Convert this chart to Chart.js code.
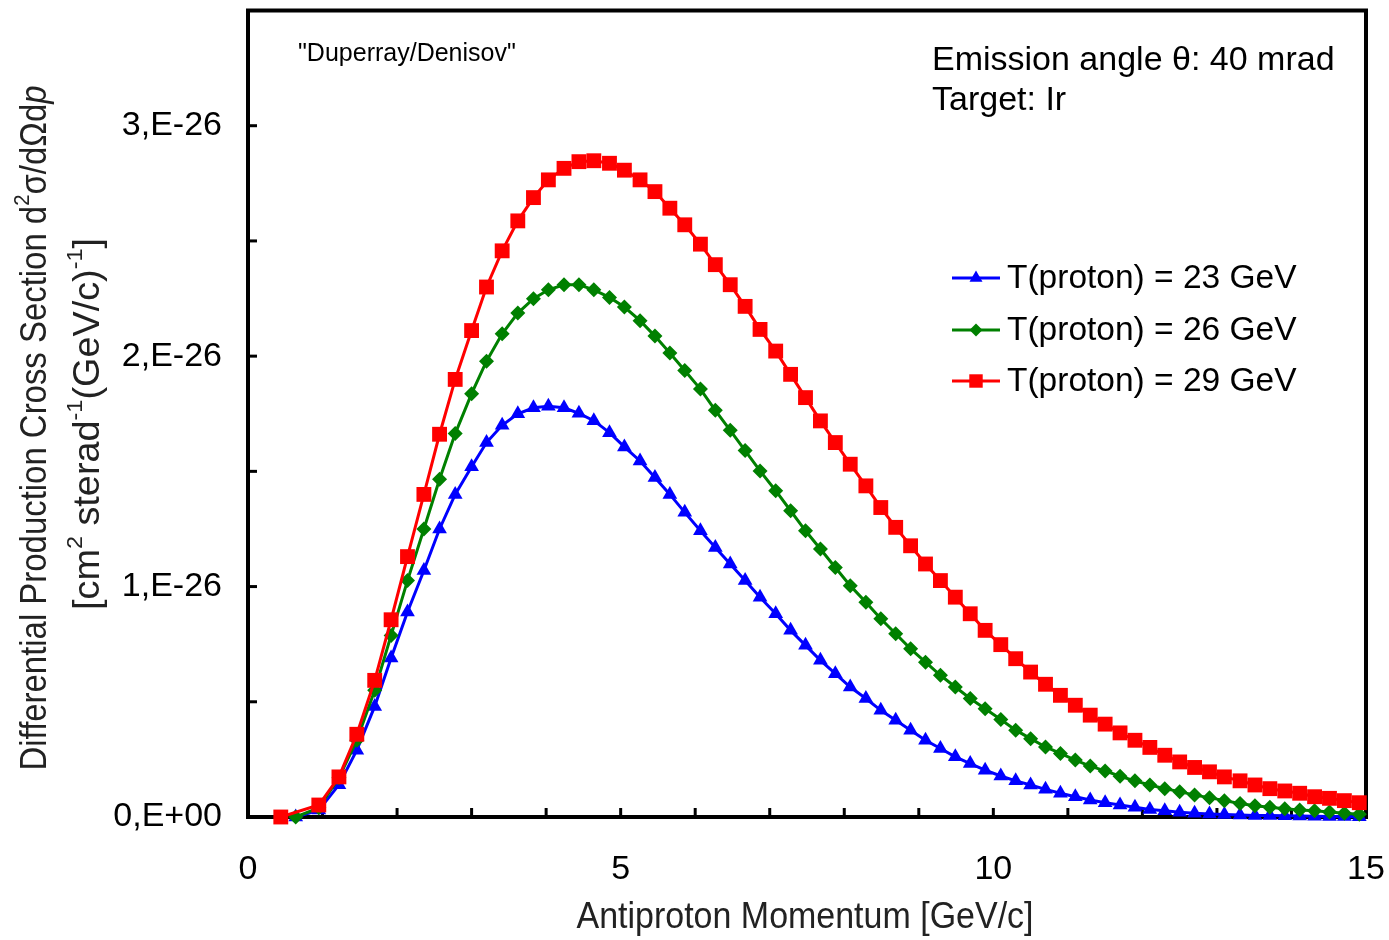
<!DOCTYPE html>
<html>
<head>
<meta charset="utf-8">
<script src="https://cdn.jsdelivr.net/npm/chart.js@4.4.1/dist/chart.umd.min.js"></script>
<style>
    html, body { margin: 0; padding: 0; background: #fff; }
    #wrap { width: 1389px; height: 940px; }
</style>
</head>
<body>
<div id="wrap"><canvas id="xsChart" width="1389" height="940"></canvas></div>
<script>
// antiproton momentum [GeV/c] of the computed points
var momentum = [0.44, 0.64, 0.95, 1.22, 1.46, 1.70, 1.92, 2.14, 2.36, 2.57, 2.78, 3.00, 3.20, 3.41, 3.62, 3.83, 4.03, 4.24, 4.44, 4.64,
    4.85, 5.05, 5.26, 5.46, 5.66, 5.86, 6.07, 6.27, 6.47, 6.67, 6.87, 7.08, 7.28, 7.48, 7.68, 7.88, 8.08, 8.29, 8.49, 8.69,
    8.89, 9.09, 9.29, 9.49, 9.69, 9.89, 10.10, 10.30, 10.50, 10.70, 10.90, 11.10, 11.30, 11.50, 11.70, 11.90, 12.10, 12.30, 12.50, 12.70,
    12.90, 13.10, 13.31, 13.51, 13.71, 13.91, 14.11, 14.31, 14.51, 14.71, 14.91];

// cross sections in units of 1E-26 cm2 sterad-1 (GeV/c)-1
var xs23 = [null, 0.00, 0.03, 0.14, 0.29, 0.48, 0.69, 0.89, 1.07, 1.25, 1.40, 1.52, 1.625, 1.70, 1.75, 1.776, 1.783, 1.776, 1.752, 1.72,
    1.668, 1.606, 1.545, 1.473, 1.40, 1.322, 1.242, 1.17, 1.098, 1.026, 0.954, 0.882, 0.81, 0.745, 0.68, 0.622, 0.564, 0.514, 0.463, 0.42,
    0.377, 0.333, 0.297, 0.261, 0.232, 0.203, 0.178, 0.157, 0.139, 0.12, 0.103, 0.088, 0.074, 0.062, 0.052, 0.042, 0.033, 0.027, 0.021, 0.016,
    0.013, 0.011, 0.009, 0.007, 0.006, 0.005, 0.004, 0.003, 0.002, 0.002, 0.001];
var xs26 = [null, 0.00, 0.04, 0.17, 0.333, 0.55, 0.788, 1.026, 1.25, 1.466, 1.664, 1.837, 1.978, 2.097, 2.187, 2.249, 2.288, 2.31, 2.31, 2.288,
    2.255, 2.213, 2.154, 2.087, 2.014, 1.938, 1.857, 1.765, 1.678, 1.59, 1.502, 1.416, 1.329, 1.242, 1.163, 1.083, 1.004, 0.932, 0.86, 0.795,
    0.73, 0.672, 0.615, 0.564, 0.514, 0.47, 0.423, 0.377, 0.34, 0.304, 0.276, 0.247, 0.221, 0.20, 0.177, 0.157, 0.139, 0.123, 0.11, 0.095,
    0.084, 0.071, 0.059, 0.049, 0.042, 0.036, 0.03, 0.027, 0.022, 0.016, 0.012];
var xs29 = [0.00, null, 0.052, 0.174, 0.359, 0.593, 0.856, 1.13, 1.40, 1.661, 1.899, 2.111, 2.30, 2.457, 2.587, 2.688, 2.765, 2.815, 2.844, 2.848,
    2.837, 2.807, 2.765, 2.714, 2.642, 2.57, 2.486, 2.397, 2.31, 2.216, 2.116, 2.022, 1.921, 1.82, 1.719, 1.625, 1.531, 1.437, 1.343, 1.257,
    1.177, 1.098, 1.026, 0.954, 0.882, 0.81, 0.748, 0.687, 0.629, 0.576, 0.528, 0.485, 0.442, 0.403, 0.365, 0.333, 0.302, 0.268, 0.239, 0.215,
    0.196, 0.174, 0.157, 0.139, 0.123, 0.113, 0.103, 0.088, 0.081, 0.071, 0.062];

var seriesLabels = ['T(proton) = 23 GeV', 'T(proton) = 26 GeV', 'T(proton) = 29 GeV'];
var xTickLabels = {0: '0', 5: '5', 10: '10', 15: '15'};
var yTickLabels = {0: '0,E+00', 1: '1,E-26', 2: '2,E-26', 3: '3,E-26'};

var SANS = '"Liberation Sans", Arial, sans-serif';

function toPoints(values) {
    var pts = [];
    for (var i = 0; i < momentum.length; i++) {
        if (values[i] !== null) pts.push({x: momentum[i], y: values[i]});
    }
    return pts;
}

function drawMarker(ctx, style, x, y, r, color) {
    ctx.save();
    ctx.fillStyle = color;
    ctx.beginPath();
    if (style === 'triangle') {
        ctx.moveTo(x, y - r);
        ctx.lineTo(x + r * 0.866, y + r * 0.5);
        ctx.lineTo(x - r * 0.866, y + r * 0.5);
    } else if (style === 'rectRot') {
        ctx.moveTo(x, y - r);
        ctx.lineTo(x + r, y);
        ctx.lineTo(x, y + r);
        ctx.lineTo(x - r, y);
    } else {
        var s = r * Math.SQRT1_2;
        ctx.rect(x - s, y - s, 2 * s, 2 * s);
    }
    ctx.closePath();
    ctx.fill();
    ctx.restore();
}

// text made of pieces: [text, kind] kind 0 normal, 1 superscript, 2 italic
// squeezed horizontally to a given length (the original uses a narrow face)
function drawRich(ctx, parts, size, length) {
    var total = 0, widths = [];
    parts.forEach(function(p) {
        var fs = p[1] === 1 ? size * 0.62 : size;
        ctx.font = (p[1] === 2 ? 'italic ' : '') + fs + 'px ' + SANS;
        var w = ctx.measureText(p[0]).width;
        widths.push(w);
        total += w;
    });
    ctx.scale(length / total, 1);
    var x = -total / 2;
    parts.forEach(function(p, i) {
        var fs = p[1] === 1 ? size * 0.62 : size;
        ctx.font = (p[1] === 2 ? 'italic ' : '') + fs + 'px ' + SANS;
        ctx.fillText(p[0], x, p[1] === 1 ? -size * 0.36 : 0);
        x += widths[i];
    });
}

var framePlugin = {
    id: 'frame',
    beforeDatasetsDraw: function(chart) {
        var ctx = chart.ctx, a = chart.chartArea;
        var xs = chart.scales.x, ys = chart.scales.y;
        ctx.save();
        ctx.strokeStyle = '#000';
        ctx.lineWidth = 3;
        xs.ticks.forEach(function(t) {
            var px = xs.getPixelForValue(t.value);
            ctx.beginPath();
            ctx.moveTo(px, a.bottom);
            ctx.lineTo(px, a.bottom - 9);
            ctx.stroke();
        });
        ys.ticks.forEach(function(t) {
            var py = ys.getPixelForValue(t.value);
            ctx.beginPath();
            ctx.moveTo(a.left, py);
            ctx.lineTo(a.left + 9, py);
            ctx.stroke();
        });
        ctx.lineWidth = 4;
        ctx.strokeRect(a.left, a.top, a.right - a.left, a.bottom - a.top);
        ctx.restore();
    },
    afterDraw: function(chart) {
        var ctx = chart.ctx;
        ctx.save();
        ctx.fillStyle = '#000';
        ctx.textBaseline = 'middle';
        ctx.textAlign = 'left';

        ctx.font = '25px ' + SANS;
        ctx.fillText('"Duperray/Denisov"', 298, 54);
        ctx.font = '34px ' + SANS;
        ctx.fillText('Emission angle \u03B8: 40 mrad', 932, 61);
        ctx.fillText('Target: Ir', 932, 101);

        // legend
        var rows = [278, 330, 381];
        chart.data.datasets.forEach(function(ds) {
            var y = rows[seriesLabels.indexOf(ds.label)];
            ctx.strokeStyle = ds.borderColor;
            ctx.lineWidth = 3;
            ctx.beginPath();
            ctx.moveTo(952, y);
            ctx.lineTo(1000, y);
            ctx.stroke();
            drawMarker(ctx, ds.pointStyle, 976, y, ds.pointRadius - 1, ds.borderColor);
            ctx.fillStyle = '#000';
            ctx.font = '33.5px ' + SANS;
            ctx.fillText(ds.label, 1007, y + 1);
        });

        // axis titles
        ctx.fillStyle = '#222';
        ctx.save();
        ctx.translate(805, 918);
        drawRich(ctx, [['Antiproton Momentum [GeV/c]', 0]], 37, 457);
        ctx.restore();

        ctx.save();
        ctx.translate(36, 428);
        ctx.rotate(-Math.PI / 2);
        drawRich(ctx, [['Differential Production Cross Section d', 0], ['2', 1], ['\u03C3/d\u03A9d', 0], ['p', 2]], 36, 685);
        ctx.restore();
        ctx.save();
        ctx.translate(89, 424);
        ctx.rotate(-Math.PI / 2);
        drawRich(ctx, [['[cm', 0], ['2', 1], [' sterad', 0], ['-1', 1], ['(GeV/c)', 0], ['-1', 1], [']', 0]], 36, 372);
        ctx.restore();
        ctx.restore();
    }
};

function fixPadding(scale) {
    scale.paddingTop = 0;
    scale.paddingBottom = 0;
    scale.paddingLeft = 0;
    scale.paddingRight = 0;
}

var ctx = document.getElementById('xsChart').getContext('2d');
var xsChart = new Chart(ctx, {
    type: 'line',
    data: {
        datasets: [{
            label: seriesLabels[2],
            data: toPoints(xs29),
            borderColor: '#ff0000',
            backgroundColor: '#ff0000',
            borderWidth: 3,
            pointStyle: 'rect',
            pointRadius: 10.5,
            pointBorderWidth: 0,
            order: 0,
            clip: false
        }, {
            label: seriesLabels[1],
            data: toPoints(xs26),
            borderColor: '#008000',
            backgroundColor: '#008000',
            borderWidth: 3,
            pointStyle: 'rectRot',
            pointRadius: 7.5,
            pointBorderWidth: 0,
            order: 1,
            clip: false
        }, {
            label: seriesLabels[0],
            data: toPoints(xs23),
            borderColor: '#0000ff',
            backgroundColor: '#0000ff',
            borderWidth: 3,
            pointStyle: 'triangle',
            pointRadius: 8.5,
            pointBorderWidth: 0,
            order: 2,
            clip: false
        }]
    },
    options: {
        responsive: false,
        devicePixelRatio: 1,
        animation: false,
        layout: {
            padding: {top: 10, right: 23, left: 0, bottom: 0}
        },
        plugins: {
            legend: {display: false},
            tooltip: {enabled: false}
        },
        scales: {
            x: {
                type: 'linear',
                min: 0,
                max: 15,
                grid: {display: false, drawTicks: false},
                border: {display: false},
                ticks: {
                    stepSize: 1,
                    autoSkip: false,
                    maxRotation: 0,
                    padding: 32,
                    color: '#000',
                    font: {size: 34, family: SANS},
                    callback: function(value) {
                        return xTickLabels[value] !== undefined ? xTickLabels[value] : '';
                    }
                },
                afterFit: function(scale) { scale.height = 123; fixPadding(scale); }
            },
            y: {
                min: 0,
                max: 3.5,
                grid: {display: false, drawTicks: false},
                border: {display: false},
                ticks: {
                    stepSize: 0.5,
                    padding: 26,
                    color: '#000',
                    font: {size: 34, family: SANS},
                    callback: function(value) {
                        return yTickLabels[value] !== undefined ? yTickLabels[value] : '';
                    }
                },
                afterFit: function(scale) { scale.width = 248; fixPadding(scale); }
            }
        }
    },
    plugins: [framePlugin]
});
</script>
</body>
</html>
